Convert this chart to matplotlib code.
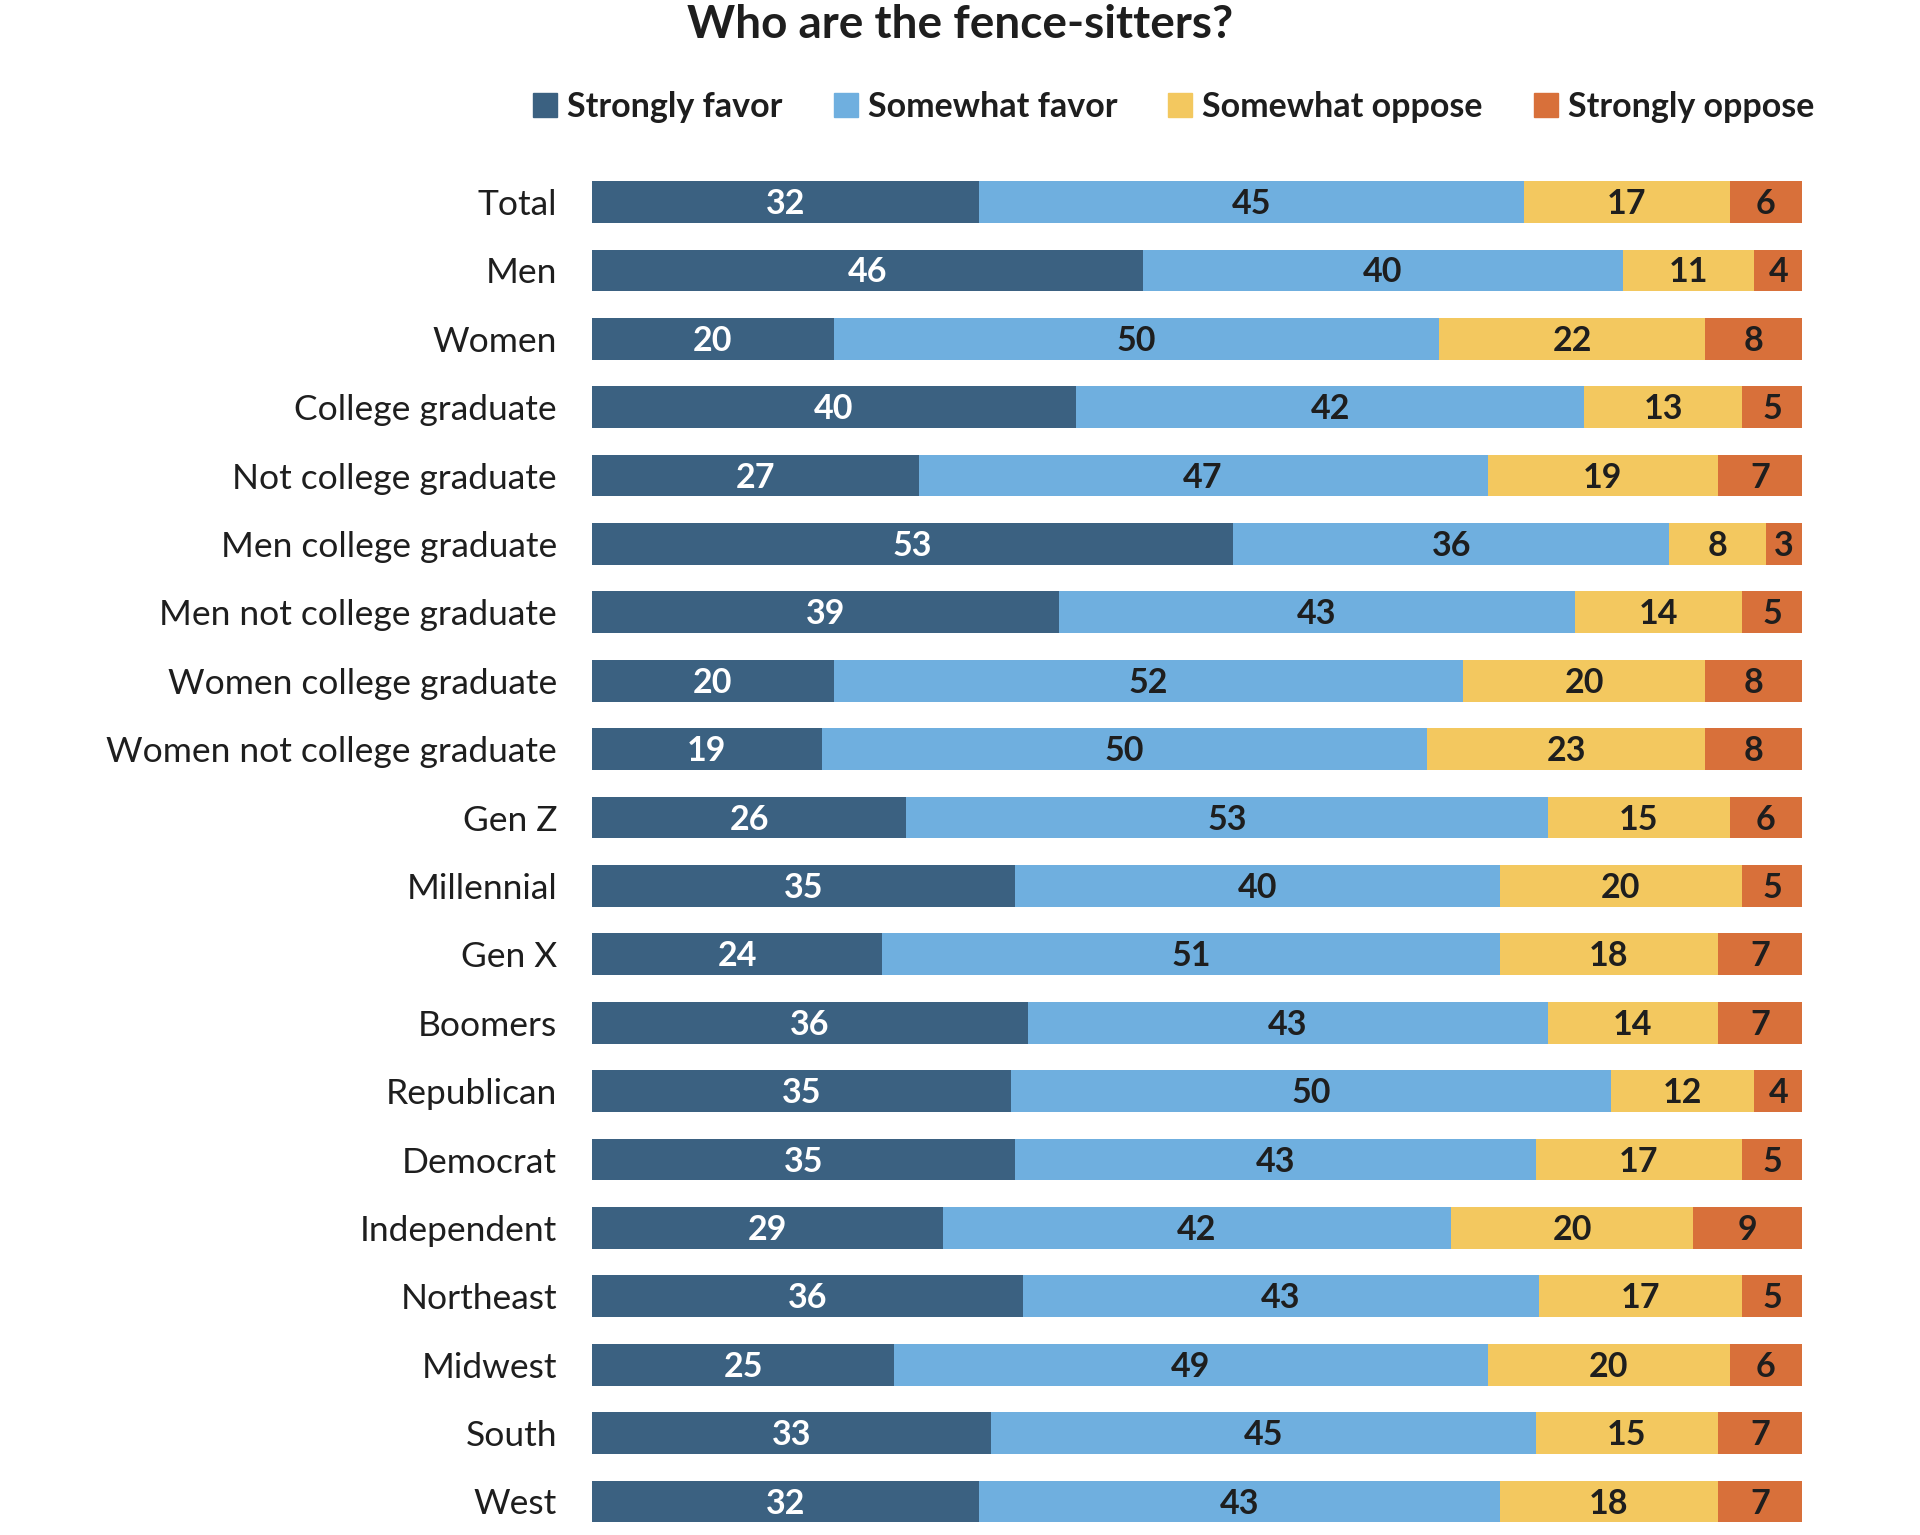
import matplotlib
matplotlib.use('Agg')
import matplotlib.pyplot as plt
import matplotlib.patches as mpatches
import numpy as np

plt.rcParams['font.family'] = ['Lato', 'DejaVu Sans']

groups = ['Total', 'Men', 'Women', 'College graduate', 'Not college graduate',
          'Men college graduate', 'Men not college graduate', 'Women college graduate',
          'Women not college graduate', 'Gen Z', 'Millennial', 'Gen X', 'Boomers',
          'Republican', 'Democrat', 'Independent', 'Northeast', 'Midwest', 'South', 'West']
strongly_favor = [32, 46, 20, 40, 27, 53, 39, 20, 19, 26, 35, 24, 36, 35, 35, 29, 36, 25, 33, 32]
somewhat_favor = [45, 40, 50, 42, 47, 36, 43, 52, 50, 53, 40, 51, 43, 50, 43, 42, 43, 49, 45, 43]
somewhat_oppose = [17, 11, 22, 13, 19, 8, 14, 20, 23, 15, 20, 18, 14, 12, 17, 20, 17, 20, 15, 18]
strongly_oppose = [6, 4, 8, 5, 7, 3, 5, 8, 8, 6, 5, 7, 7, 4, 5, 9, 5, 6, 7, 7]

series = ['Strongly favor', 'Somewhat favor', 'Somewhat oppose', 'Strongly oppose']
colors = ['#3b6181', '#6fafdf', '#f3c85f', '#d8703a']
text_colors = ['white', '#1e1e1e', '#1e1e1e', '#1e1e1e']

data = np.array([strongly_favor, somewhat_favor, somewhat_oppose, strongly_oppose], dtype=float)
shares = data / data.sum(axis=0) * 100  # bars fill the full width

fig = plt.figure(figsize=(19.2, 15.35), dpi=100)
ax = fig.add_axes([0.3082, 0.0, 0.6305, 0.8907])

y = np.arange(len(groups))
left = np.zeros(len(groups))
for i in range(4):
    ax.barh(y, shares[i], left=left, height=0.61, color=colors[i], edgecolor='none')
    for j in range(len(groups)):
        ax.text(left[j] + shares[i][j] / 2, y[j] + 0.03, '%d' % data[i][j],
                ha='center', va='center', fontsize=24.5, fontweight='bold', color=text_colors[i])
    left += shares[i]

ax.set_xlim(0, 100)
ax.set_ylim(19.49, -0.5)
ax.set_yticks(y)
ax.set_yticklabels(groups, fontsize=25.5, color='#1e1e1e')
ax.tick_params(axis='y', length=0, pad=25)
ax.set_xticks([])
for s in ax.spines.values():
    s.set_visible(False)

fig.text(0.5, 0.984, 'Who are the fence-sitters?', ha='center', va='center',
         fontsize=33, fontweight='bold', color='#1e1e1e')

handles = [mpatches.Patch(color=c, label=l) for c, l in zip(colors, series)]
leg = fig.legend(handles=handles, loc='center right', bbox_to_anchor=(0.945, 0.9305), ncol=4,
                 frameon=False, handlelength=0.7, handleheight=0.7, handletextpad=0.3,
                 columnspacing=1.5, borderaxespad=0, borderpad=0,
                 prop={'size': 24.5, 'weight': 'bold'})
for t in leg.get_texts():
    t.set_color('#1e1e1e')

fig.savefig('out.png', dpi=100, facecolor='white')
